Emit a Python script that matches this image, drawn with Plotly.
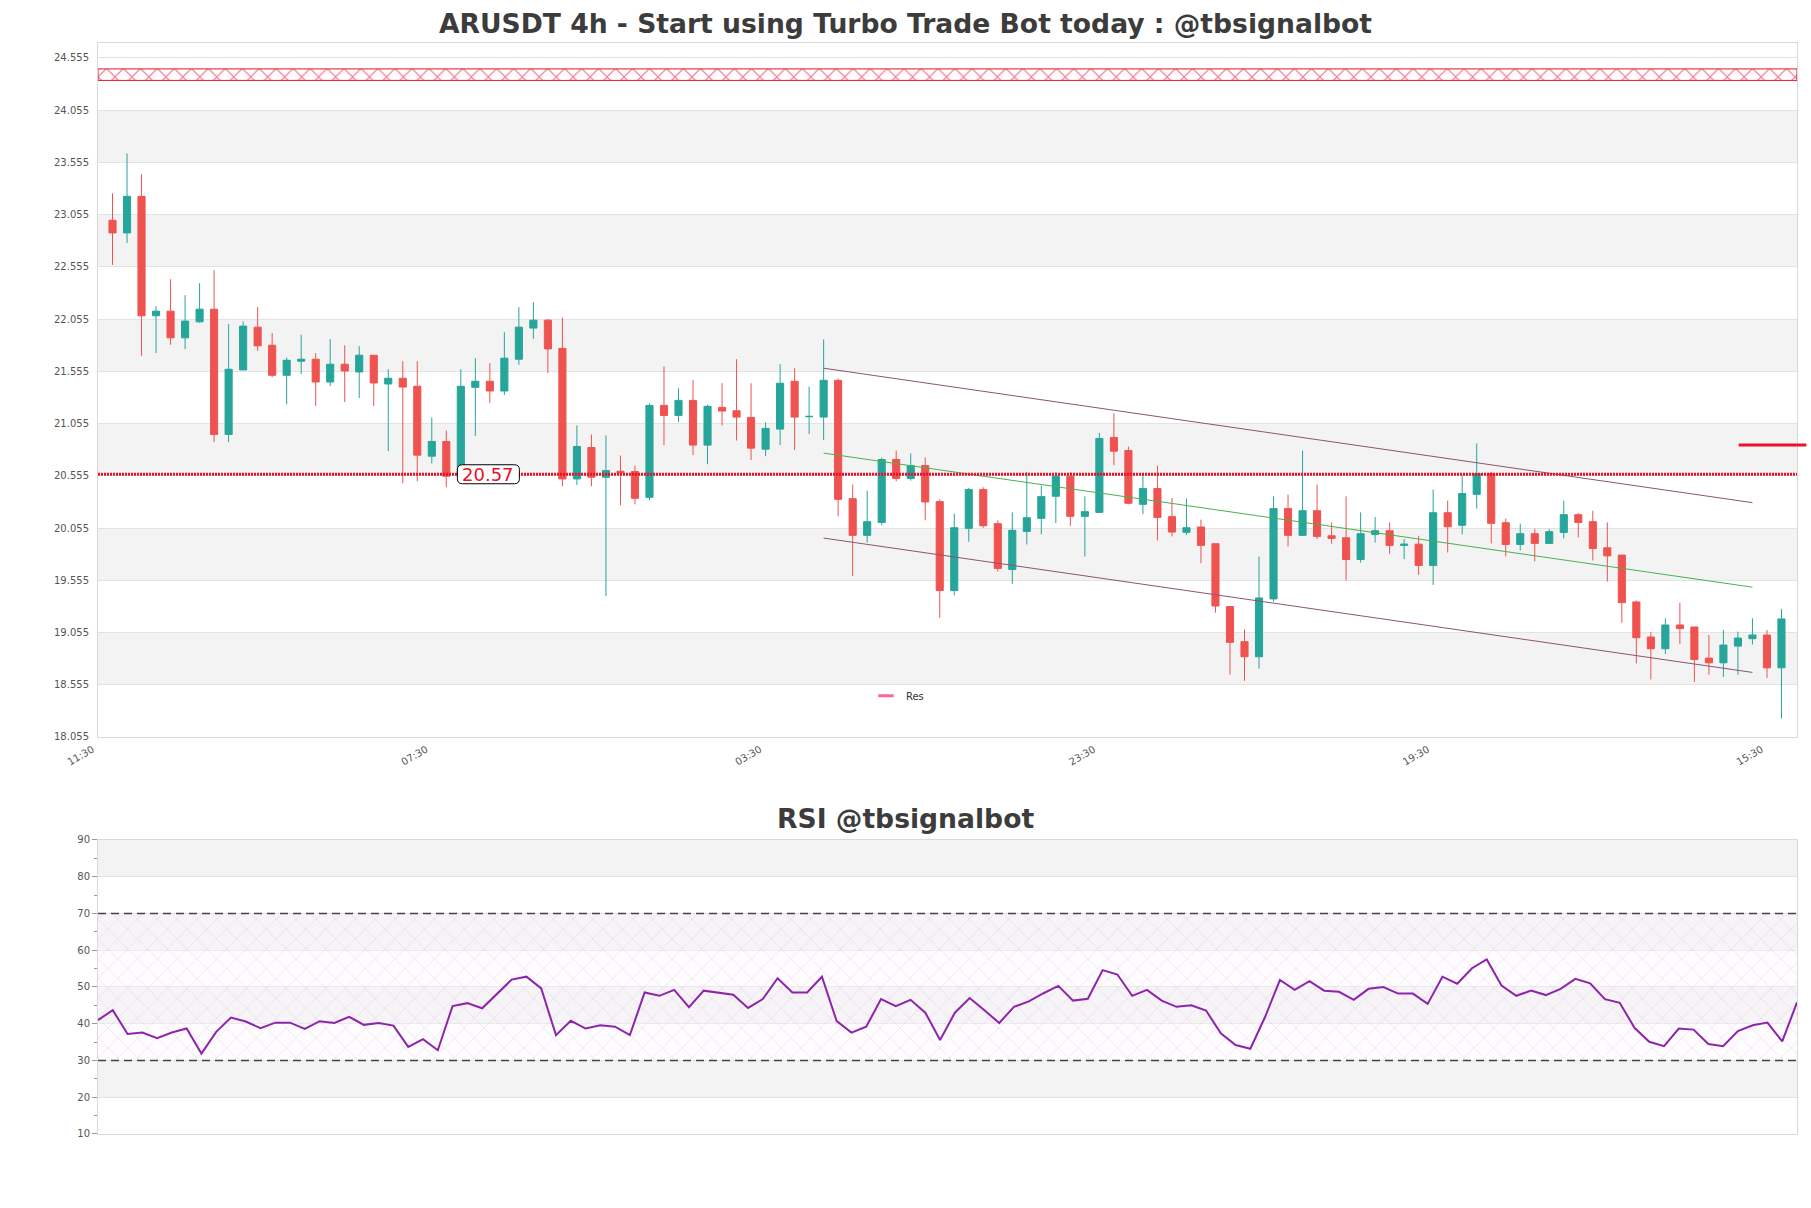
import plotly.graph_objects as go

# ---------------- data ----------------
title_text = "ARUSDT 4h - Start using Turbo Trade Bot today : @tbsignalbot"
rsi_title = "RSI @tbsignalbot"

opens = [23.001, 22.880, 23.230, 22.087, 22.131, 21.876, 22.029, 22.150, 20.951, 21.569,
         21.978, 21.805, 21.517, 21.652, 21.671, 21.453, 21.623, 21.549, 21.709, 21.434,
         21.489, 21.412, 20.743, 20.884, 20.560, 21.402, 21.460, 21.367, 21.671, 21.969,
         22.045, 21.775, 20.525, 20.826, 20.541, 20.599, 20.596, 20.349, 21.229, 21.133,
         21.277, 20.849, 21.210, 21.178, 21.114, 20.810, 21.002, 21.460, 21.121, 21.117,
         21.469, 20.336, 19.985, 20.109, 20.711, 20.529, 20.653, 20.308, 19.457, 20.052,
         20.423, 20.097, 19.658, 20.023, 20.148, 20.359, 20.551, 20.167, 20.205, 20.922,
         20.797, 20.282, 20.433, 20.164, 20.014, 20.065, 19.905, 19.303, 18.967, 18.823,
         19.377, 20.241, 19.985, 20.221, 19.981, 19.962, 19.754, 19.994, 20.029, 19.889,
         19.901, 19.697, 20.202, 20.081, 20.378, 20.577, 20.106, 19.898, 20.001, 19.908,
         20.013, 20.183, 20.116, 19.866, 19.796, 19.348, 19.012, 18.900, 19.127, 19.108,
         18.810, 18.765, 18.925, 18.996, 19.031, 18.717]
highs = [23.259, 23.641, 23.443, 22.179, 22.437, 22.284, 22.399, 22.523, 22.007, 22.033,
         22.170, 21.921, 21.687, 21.905, 21.729, 21.863, 21.805, 21.796, 21.712, 21.575,
         21.652, 21.652, 21.114, 20.989, 21.575, 21.681, 21.633, 21.930, 22.170, 22.218,
         22.055, 22.071, 21.037, 20.951, 20.941, 20.749, 20.653, 21.249, 21.604, 21.393,
         21.473, 21.236, 21.441, 21.671, 21.441, 21.066, 21.623, 21.585, 21.409, 21.860,
         21.485, 20.471, 20.413, 20.730, 20.797, 20.769, 20.730, 20.327, 20.193, 20.439,
         20.445, 20.129, 20.205, 20.593, 20.461, 20.589, 20.589, 20.359, 20.967, 21.153,
         20.836, 20.583, 20.653, 20.343, 20.337, 20.135, 19.905, 19.303, 19.085, 19.783,
         20.359, 20.375, 20.797, 20.471, 20.109, 20.359, 20.205, 20.161, 20.109, 19.949,
         19.981, 20.423, 20.317, 20.557, 20.865, 20.593, 20.145, 20.097, 20.049, 20.045,
         20.317, 20.196, 20.221, 20.109, 19.796, 19.361, 19.060, 19.191, 19.341, 19.108,
         19.031, 19.079, 19.063, 19.191, 19.079, 19.281]
lows = [22.574, 22.784, 21.704, 21.730, 21.809, 21.768, 22.020, 20.877, 20.877, 21.565,
        21.751, 21.498, 21.239, 21.530, 21.223, 21.415, 21.261, 21.300, 21.223, 20.791,
        20.484, 20.503, 20.673, 20.445, 20.520, 20.935, 21.252, 21.329, 21.617, 21.866,
        21.540, 20.455, 20.468, 20.455, 19.405, 20.273, 20.282, 20.321, 20.849, 21.069,
        20.753, 20.666, 21.037, 20.893, 20.705, 20.743, 20.849, 20.801, 20.954, 20.897,
        20.167, 19.597, 19.917, 20.081, 20.503, 20.509, 20.129, 19.197, 19.409, 19.924,
        20.058, 19.639, 19.521, 19.898, 19.994, 20.103, 20.077, 19.783, 20.199, 20.657,
        20.282, 20.189, 19.937, 19.975, 19.988, 19.719, 19.245, 18.653, 18.593, 18.711,
        19.351, 19.879, 19.980, 19.949, 19.905, 19.553, 19.725, 19.917, 19.809, 19.757,
        19.607, 19.511, 19.821, 19.994, 20.241, 19.908, 19.783, 19.841, 19.735, 19.905,
        19.956, 19.965, 19.745, 19.543, 19.149, 18.759, 18.605, 18.849, 18.945, 18.583,
        18.650, 18.631, 18.650, 18.941, 18.621, 18.231]
closes = [22.880, 23.230, 22.087, 22.131, 21.876, 22.036, 22.150, 20.951, 21.575, 21.988,
          21.799, 21.517, 21.661, 21.671, 21.453, 21.623, 21.559, 21.709, 21.444, 21.489,
          21.405, 20.753, 20.884, 20.551, 21.412, 21.460, 21.367, 21.681, 21.978, 22.045,
          21.770, 20.525, 20.836, 20.541, 20.605, 20.583, 20.340, 21.229, 21.133, 21.277,
          20.849, 21.220, 21.175, 21.117, 20.820, 21.009, 21.441, 21.117, 21.124, 21.469,
          20.330, 19.985, 20.116, 20.711, 20.529, 20.653, 20.305, 19.457, 20.058, 20.423,
          20.077, 19.668, 20.033, 20.154, 20.356, 20.551, 20.167, 20.212, 20.913, 20.791,
          20.292, 20.433, 20.157, 20.017, 20.058, 19.889, 19.309, 18.961, 18.823, 19.386,
          20.241, 19.985, 20.221, 19.975, 19.956, 19.754, 20.001, 20.029, 19.889, 19.901,
          19.697, 20.202, 20.068, 20.385, 20.577, 20.100, 19.898, 20.001, 19.908, 20.020,
          20.183, 20.109, 19.860, 19.789, 19.341, 19.005, 18.900, 19.127, 19.092, 18.797,
          18.765, 18.935, 19.002, 19.031, 18.717, 19.185]
rsi = [41.0, 43.7, 37.2, 37.6, 36.1, 37.6, 38.7, 31.9, 37.8, 41.7,
       40.6, 38.8, 40.3, 40.3, 38.6, 40.7, 40.2, 41.9, 39.7, 40.2,
       39.5, 33.7, 35.8, 32.8, 44.8, 45.6, 44.2, 48.0, 52.0, 52.8,
       49.6, 36.9, 40.8, 38.7, 39.6, 39.2, 36.9, 48.5, 47.6, 49.2,
       44.5, 49.0, 48.5, 47.9, 44.3, 46.7, 52.4, 48.5, 48.5, 52.8,
       40.7, 37.6, 39.2, 46.7, 44.8, 46.5, 43.0, 35.6, 43.0, 47.0,
       43.7, 40.2, 44.6, 46.1, 48.3, 50.3, 46.3, 46.8, 54.6, 53.4,
       47.6, 49.2, 46.3, 44.6, 45.0, 43.6, 37.4, 34.2, 33.2, 41.9,
       51.9, 49.2, 51.6, 49.0, 48.7, 46.5, 49.5, 50.0, 48.2, 48.2,
       45.4, 52.8, 50.9, 55.1, 57.5, 50.4, 47.6, 49.0, 47.8, 49.5,
       52.2, 51.0, 46.7, 45.7, 38.9, 35.1, 33.9, 38.7, 38.4, 34.5,
       33.9, 38.0, 39.6, 40.3, 35.2, 45.8]

x_tick_idx = [0, 23, 46, 69, 92, 115]
x_tick_text = ["11:30", "07:30", "03:30", "23:30", "19:30", "15:30"]
price_ticks = [18.055, 18.555, 19.055, 19.555, 20.055, 20.555, 21.055,
               21.555, 22.055, 22.555, 23.055, 23.555, 24.055, 24.555]
rsi_ticks = [10, 20, 30, 40, 50, 60, 70, 80, 90]

res_level = 20.57
res_label = "20.57"
zone_low, zone_high = 24.34, 24.45
channel_x = [49, 113]
channel_upper = [21.585, 20.298]
channel_mid = [20.772, 19.489]
channel_lower = [19.959, 18.673]
marker_level = 20.849
rsi_upper, rsi_lower = 70, 30

# ---------------- figure ----------------
n = len(opens)
xs = list(range(n))
x_lo, x_hi = -1, n + 0.07
UP, DOWN = "#26a69a", "#ef5350"
RED = "#e8102a"
FONT = "DejaVu Sans"
TICKFONT = dict(family=FONT, size=10, color="#555555")
TITLEFONT = dict(family=FONT, size=26.6, color="#3c3c3c")

fig = go.Figure()

# top hatched zone
fig.add_trace(go.Scatter(
    x=[x_lo, x_hi, x_hi, x_lo, x_lo],
    y=[zone_low, zone_low, zone_high, zone_high, zone_low],
    mode="lines", fill="toself", fillcolor="rgba(255,255,255,0)",
    fillpattern=dict(shape="x", fgcolor=RED, bgcolor="white",
                     size=12, solidity=0.2),
    line=dict(color=RED, width=1), showlegend=False, hoverinfo="skip",
    xaxis="x", yaxis="y"))

fig.add_trace(go.Candlestick(
    x=xs, open=opens, high=highs, low=lows, close=closes,
    increasing=dict(line=dict(color=UP, width=1), fillcolor=UP),
    decreasing=dict(line=dict(color=DOWN, width=1), fillcolor=DOWN),
    showlegend=False, xaxis="x", yaxis="y"))

for ys, col in [(channel_upper, "#8d5470"), (channel_lower, "#8d5470"), (channel_mid, "#4caf50")]:
    fig.add_trace(go.Scatter(x=channel_x, y=ys, mode="lines",
                             line=dict(color=col, width=1),
                             showlegend=False, hoverinfo="skip",
                             xaxis="x", yaxis="y"))

fig.add_trace(go.Scatter(
    x=[x_lo, x_hi], y=[res_level, res_level], mode="lines", name="Res",
    legendgroup="res", line=dict(color=RED, width=3, dash="2px,1px"),
    showlegend=False, xaxis="x", yaxis="y"))
# legend entry for the level (short solid dash, as in the source chart)
fig.add_trace(go.Scatter(
    x=[None], y=[None], mode="markers", name="Res", legendgroup="res",
    marker=dict(symbol="line-ew-open", size=11, line=dict(color=RED, width=3)),
    showlegend=True, xaxis="x", yaxis="y"))

# RSI panel
r_lo, r_hi = 0, n - 1
fig.add_trace(go.Scatter(
    x=[r_lo, r_hi, r_hi, r_lo, r_lo],
    y=[rsi_lower, rsi_lower, rsi_upper, rsi_upper, rsi_lower],
    mode="lines", fill="toself", fillcolor="rgba(255,255,255,0)",
    fillpattern=dict(shape="x", fgcolor="rgba(180,140,200,0.7)",
                     bgcolor="rgba(250,245,252,0.35)", size=14, solidity=0.07),
    line=dict(width=0), showlegend=False, hoverinfo="skip",
    xaxis="x2", yaxis="y2"))
for lvl in (rsi_upper, rsi_lower):
    fig.add_trace(go.Scatter(x=[r_lo, r_hi], y=[lvl, lvl], mode="lines",
                             line=dict(color="#444444", width=1.3, dash="8px,5px"),
                             showlegend=False, hoverinfo="skip",
                             xaxis="x2", yaxis="y2"))
fig.add_trace(go.Scatter(x=xs, y=rsi, mode="lines",
                         line=dict(color="#8e24aa", width=2),
                         showlegend=False, xaxis="x2", yaxis="y2"))

# alternating bands
shapes = []
for k in range(1, len(price_ticks) - 1, 2):
    shapes.append(dict(type="rect", xref="x domain", yref="y", x0=0, x1=1,
                       y0=price_ticks[k], y1=price_ticks[k + 1],
                       fillcolor="#f3f3f3", line=dict(width=0), layer="below"))
for k in range(1, len(rsi_ticks) - 1, 2):
    shapes.append(dict(type="rect", xref="x2 domain", yref="y2", x0=0, x1=1,
                       y0=rsi_ticks[k], y1=rsi_ticks[k + 1],
                       fillcolor="#f3f3f3", line=dict(width=0), layer="below"))
# current price marker at the right edge
shapes.append(dict(type="line", xref="paper", yref="y", x0=0.9657, x1=1.0055,
                   y0=marker_level, y1=marker_level,
                   line=dict(color=RED, width=3)))
# rounded label box
label_x = 25.9
shapes.append(dict(type="path", xref="x", yref="y", xsizemode="pixel", ysizemode="pixel",
                   xanchor=label_x, yanchor=res_level,
                   path="M -26,-9.5 L 26,-9.5 Q 31,-9.5 31,-4.5 L 31,4.5 Q 31,9.5 26,9.5 "
                        "L -26,9.5 Q -31,9.5 -31,4.5 L -31,-4.5 Q -31,-9.5 -26,-9.5 Z",
                   fillcolor="white", line=dict(color="black", width=1), layer="above"))

annotations = [
    dict(x=label_x, y=res_level, xref="x", yref="y", text=res_label, showarrow=False,
         xanchor="center", yanchor="middle",
         font=dict(family=FONT, size=18, color=RED)),
    dict(x=(905.5 - 97.6) / 1699.8, y=(1134 - 818) / 1091, xref="paper", yref="paper",
         text="<b>" + rsi_title + "</b>", showarrow=False, xanchor="center", yanchor="middle",
         font=TITLEFONT),
]

axis_common = dict(showline=True, linecolor="#d9d9d9", linewidth=1, mirror=True,
                   zeroline=False, tickfont=TICKFONT)

fig.update_layout(
    width=1811, height=1208,
    margin=dict(l=97.6, r=13.6, t=43, b=74),
    paper_bgcolor="white", plot_bgcolor="white",
    title=dict(text="<b>" + title_text + "</b>", x=0.5, xref="container", xanchor="center",
               y=1 - 24 / 1208, yanchor="middle", font=TITLEFONT),
    showlegend=True,
    legend=dict(x=0.452, y=0.4017, xanchor="left", yanchor="middle",
                bgcolor="rgba(0,0,0,0)", font=dict(family=FONT, size=10, color="#333333")),
    xaxis=dict(domain=[0, 1], anchor="y", range=[x_lo, x_hi],
               tickvals=x_tick_idx, ticktext=x_tick_text, tickangle=-30,
               ticklabelshift=-20, ticklabelstandoff=2,
               showgrid=False, rangeslider=dict(visible=False), **axis_common),
    yaxis=dict(domain=[0.3639, 1], anchor="x", range=[18.055, 24.698],
               tickvals=price_ticks, ticktext=["%.3f" % v for v in price_ticks],
               showgrid=True, gridcolor="#e3e3e3", ticks="outside", ticklen=6,
               tickcolor="rgba(0,0,0,0)", **axis_common),
    xaxis2=dict(domain=[0, 1], anchor="y2", range=[r_lo, r_hi], showticklabels=False,
                showgrid=False, **axis_common),
    yaxis2=dict(domain=[0, 0.2695], anchor="x2", range=[10, 90], tickvals=rsi_ticks,
                showgrid=True, gridcolor="#e3e3e3", ticks="outside", ticklen=5,
                tickcolor="#999999",
                minor=dict(tick0=5, dtick=10, ticks="outside", ticklen=3,
                           tickcolor="#999999", showgrid=False),
                **axis_common),
    shapes=shapes, annotations=annotations,
)

fig.write_html("out.html")
